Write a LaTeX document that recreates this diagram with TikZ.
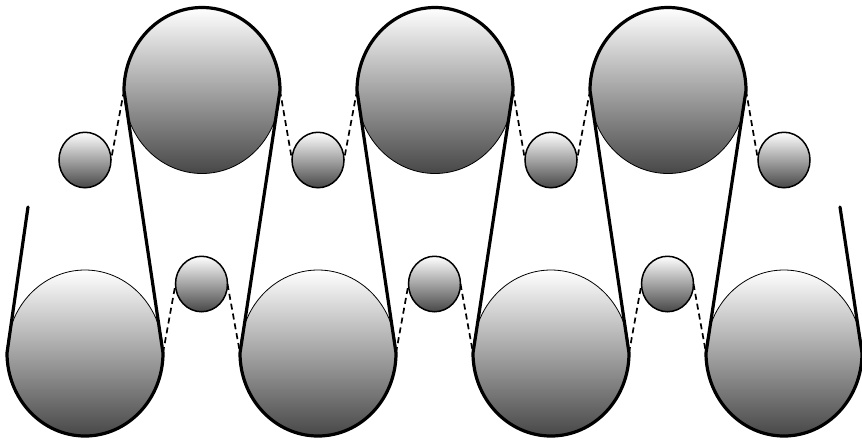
\documentclass[tikz,border=0pt]{standalone}
\usetikzlibrary{shapes.geometric}

\tikzset{
  pulley/.style={shape=ellipse,inner sep=0pt,outer sep=0pt,shade,top color=white,bottom color=black!72,draw=black},
  bigPulley/.style={pulley,minimum width=156pt,minimum height=166pt,line width=0.8pt},
  smallPulley/.style={pulley,minimum width=52pt,minimum height=55.5pt,line width=1.5pt},
  belt/.style={draw=black,line width=3.2pt,line cap=round},
  looseBelt/.style={draw=black,line width=1.7pt,dash pattern=on 6pt off 4pt}
}

\begin{document}
\begin{tikzpicture}[x=1pt,y=-1pt]
\useasboundingbox (0,0) rectangle (862,440);

% lower row
\foreach \i/\x in {1/85,2/318,3/551,4/784} {
  \node[bigPulley] (low\i) at (\x,353) {};
  \node[smallPulley] (idleTop\i) at (\x,160) {};
}
% upper row
\foreach \i/\x in {1/202,2/435,3/668} {
  \node[bigPulley] (up\i) at (\x,90.5) {};
  \node[smallPulley] (idleLow\i) at (\x-0.5,284) {};
}

% free ends
\coordinate (beltStart) at (28,207);
\coordinate (beltEnd) at (840,207);

% slack strands
\foreach \i/\j in {1/2,2/3,3/4} {
  \draw[looseBelt] (up\i.west) -- (idleTop\i.east);
  \draw[looseBelt] (up\i.east) -- (idleTop\j.west);
}
\foreach \i/\j in {1/2,2/3,3/4} {
  \draw[looseBelt] (low\i.east) -- (idleLow\i.west);
  \draw[looseBelt] (idleLow\i.east) -- (low\j.west);
}

% main belt
\draw[belt] (beltStart) -- (low1.west)
  arc[start angle=180,end angle=360,x radius=78pt,y radius=83pt] -- (up1.west)
  arc[start angle=180,end angle=0,x radius=78pt,y radius=83pt] -- (low2.west)
  arc[start angle=180,end angle=360,x radius=78pt,y radius=83pt] -- (up2.west)
  arc[start angle=180,end angle=0,x radius=78pt,y radius=83pt] -- (low3.west)
  arc[start angle=180,end angle=360,x radius=78pt,y radius=83pt] -- (up3.west)
  arc[start angle=180,end angle=0,x radius=78pt,y radius=83pt] -- (low4.west)
  arc[start angle=180,end angle=360,x radius=78pt,y radius=83pt] -- (beltEnd);

\end{tikzpicture}
\end{document}
